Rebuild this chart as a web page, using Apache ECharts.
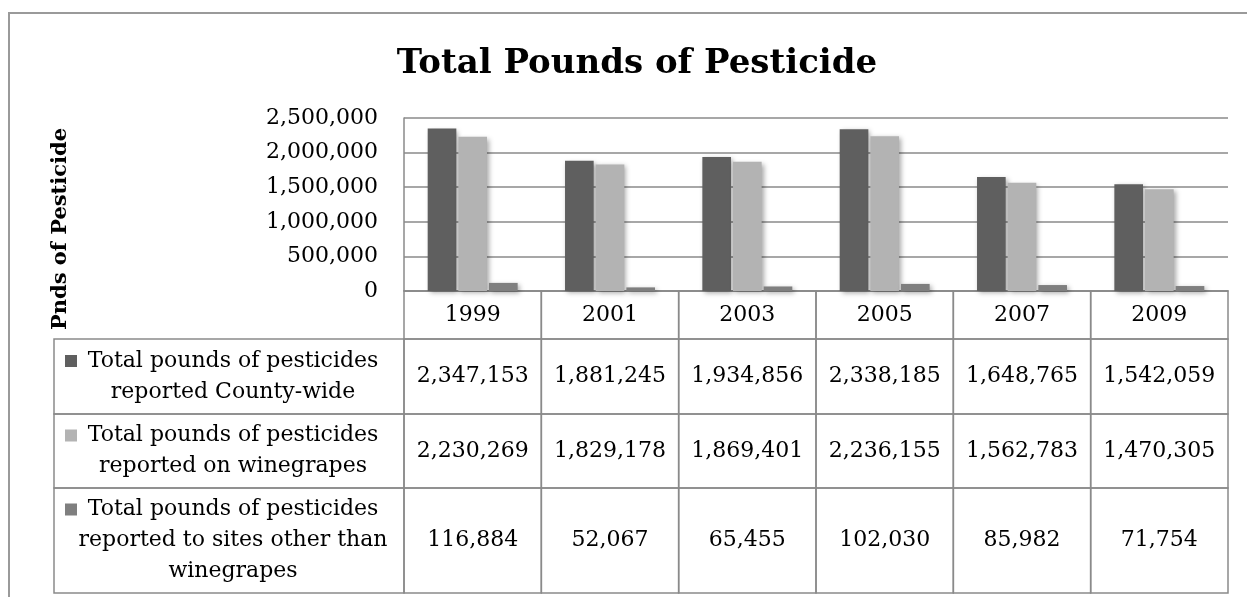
<!DOCTYPE html>
<html>
<head>
<meta charset="utf-8">
<script src="https://cdn.jsdelivr.net/npm/echarts@6/dist/echarts.min.js"></script>
<style>
html,body{margin:0;padding:0;background:#fff;}
#main{width:1247px;height:597px;}
</style>
</head>
<body>
<div id="main"></div>
<script>
// ---- data ----
const categories = ['1999', '2001', '2003', '2005', '2007', '2009'];
const countyWide = [2347153, 1881245, 1934856, 2338185, 1648765, 1542059];
const winegrapes = [2230269, 1829178, 1869401, 2236155, 1562783, 1470305];
const otherSites = [116884, 52067, 65455, 102030, 85982, 71754];
const seriesNames = [
  'Total pounds of pesticides\nreported County-wide',
  'Total pounds of pesticides\nreported on winegrapes',
  'Total pounds of pesticides\nreported to sites other than\nwinegrapes'
];
const yTicks = [0, 500000, 1000000, 1500000, 2000000, 2500000];
const chartTitle = 'Total Pounds of Pesticide';
const yAxisTitle = 'Pnds of Pesticide';

// ---- layout / style ----
const FONT = '"DejaVu Serif", serif';
const colors = ['#5f5f5f', '#b3b3b3', '#7f7f7f'];
const lineColor = '#8a8a8a';
const plotLeft = 404, plotRight = 1228, plotTop = 118, plotBottom = 291;
const tableBottom = 593, tableLeft = 54;
const rowEdges = [0, 48, 123, 197, 302]; // header row + 3 data rows (layout units)
const seriesData = [countyWide, winegrapes, otherSites];

function fmt(v) { return v.toString().replace(/\B(?=(\d{3})+(?!\d))/g, ','); }

// table cells: [col, row]; col -1 is the legend column
const cellData = [];
for (let r = 0; r < 4; r++) {
  for (let c = (r === 0 ? 0 : -1); c < categories.length; c++) cellData.push([c, r]);
}

const chart = echarts.init(document.getElementById('main'), null, {renderer: 'canvas'});

const barSeries = seriesData.map((d, i) => ({
  type: 'bar',
  name: seriesNames[i],
  data: d,
  xAxisIndex: 0, yAxisIndex: 0,
  barGap: '7%',
  barCategoryGap: '34.5%',
  itemStyle: {
    color: colors[i],
    shadowBlur: 5,
    shadowColor: 'rgba(0,0,0,0.35)',
    shadowOffsetX: 2,
    shadowOffsetY: 2
  },
  silent: true
}));

const tableSeries = {
  type: 'custom',
  xAxisIndex: 1, yAxisIndex: 1,
  data: cellData,
  silent: true,
  clip: false,
  renderItem: function (params, api) {
    const c = api.value(0), r = api.value(1);
    const y0 = api.coord([0, rowEdges[r]])[1];
    const y1 = api.coord([0, rowEdges[r + 1]])[1];
    let x0, x1;
    if (c >= 0) {
      const cx = api.coord([c, 0])[0];
      const w = api.size([1, 0])[0];
      x0 = cx - w / 2; x1 = cx + w / 2;
    } else {
      x0 = tableLeft; x1 = params.coordSys.x;
    }
    const children = [{
      type: 'rect',
      shape: {x: x0, y: y0, width: x1 - x0, height: y1 - y0},
      style: {fill: 'none', stroke: lineColor, lineWidth: 1.5}
    }];
    const yc = (y0 + y1) / 2;
    if (c >= 0 && r > 0) {
      children.push({
        type: 'text',
        style: {text: fmt(seriesData[r - 1][c]), x: (x0 + x1) / 2, y: yc,
          align: 'center', verticalAlign: 'middle', fontSize: 22, fontFamily: FONT, fill: '#000'}
      });
    } else if (c < 0) {
      const label = seriesNames[r - 1];
      const n = label.split('\n').length;
      const lh = 31;
      const firstY = yc - (n - 1) * lh / 2;
      children.push({
        type: 'rect',
        shape: {x: x0 + 11, y: firstY - 6, width: 12, height: 12},
        style: {fill: colors[r - 1]}
      });
      children.push({
        type: 'text',
        style: {text: label, x: (x0 + 8 + x1) / 2, y: yc, lineHeight: lh,
          align: 'center', verticalAlign: 'middle', fontSize: 22, fontFamily: FONT, fill: '#000'}
      });
    }
    return {type: 'group', children: children};
  }
};

chart.setOption({
  animation: false,
  backgroundColor: '#fff',
  title: {
    text: chartTitle,
    left: 632,
    textAlign: 'center',
    top: 42,
    textStyle: {fontFamily: FONT, fontSize: 34, fontWeight: 'bold', color: '#000'}
  },
  graphic: [
    {type: 'rect', shape: {x: 9, y: 13, width: 1400, height: 800},
     style: {fill: 'none', stroke: '#9a9a9a', lineWidth: 2}, silent: true},
    {type: 'text', x: 61, y: 229, rotation: Math.PI / 2,
     style: {text: yAxisTitle, align: 'center', verticalAlign: 'middle',
       fontFamily: FONT, fontSize: 21, fontWeight: 'bold', fill: '#000'}, silent: true}
  ],
  grid: [
    {left: plotLeft, width: plotRight - plotLeft, top: plotTop, height: plotBottom - plotTop, containLabel: false},
    {left: plotLeft, width: plotRight - plotLeft, top: plotBottom, height: tableBottom - plotBottom, containLabel: false}
  ],
  xAxis: [
    {type: 'category', gridIndex: 0, data: categories,
     axisLine: {show: true, lineStyle: {color: lineColor, width: 1.5}},
     axisTick: {show: false},
     axisLabel: {show: true, margin: 24, verticalAlign: 'middle', fontFamily: FONT, fontSize: 22, color: '#000'},
     splitLine: {show: false}},
    {type: 'category', gridIndex: 1, data: categories, show: false}
  ],
  yAxis: [
    {type: 'value', gridIndex: 0, min: yTicks[0], max: yTicks[yTicks.length - 1], interval: yTicks[1] - yTicks[0],
     axisLine: {show: true, lineStyle: {color: lineColor, width: 1.5}},
     axisTick: {show: false},
     axisLabel: {margin: 26, fontFamily: FONT, fontSize: 22, color: '#000', formatter: v => fmt(v)},
     splitLine: {show: true, lineStyle: {color: lineColor, width: 1.5}}},
    {type: 'value', gridIndex: 1, min: rowEdges[0], max: rowEdges[rowEdges.length - 1], inverse: true, show: false}
  ],
  series: barSeries.concat([tableSeries])
});
</script>
</body>
</html>
